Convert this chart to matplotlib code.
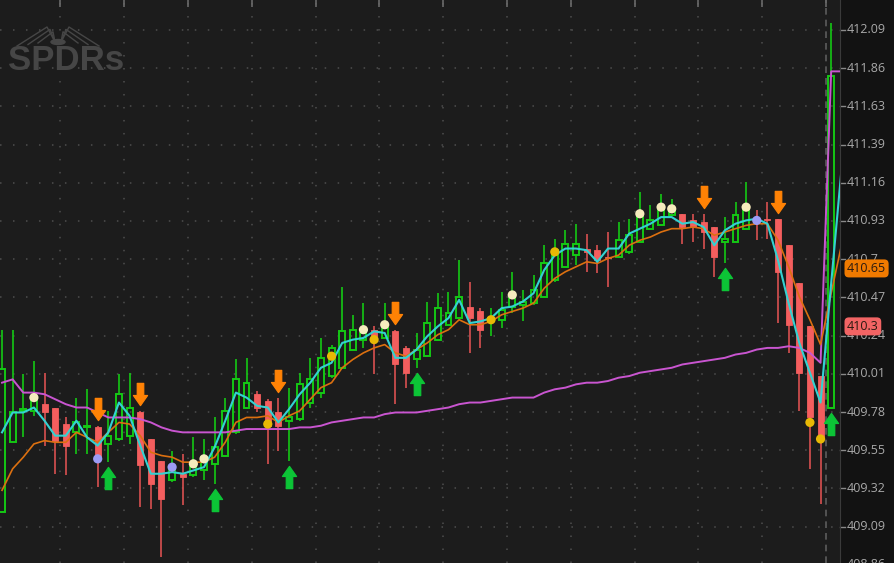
import numpy as np
import matplotlib.pyplot as plt
import matplotlib.transforms as mtransforms
from matplotlib.path import Path
from matplotlib.patches import Rectangle, Ellipse

# five-minute bars, oldest first
opens = [409.18, 409.60, 409.79, 409.79, 409.83, 409.81, 409.71, 409.66, 409.69, 409.69,
         409.59, 409.62, 409.64, 409.78, 409.62, 409.49, 409.37, 409.41, 409.40, 409.43,
         409.47, 409.52, 409.66, 409.81, 409.89, 409.85, 409.78, 409.73, 409.74, 409.84,
         409.90, 410.00, 410.05, 410.16, 410.22, 410.28, 410.23, 410.27, 410.17, 410.10,
         410.12, 410.22, 410.31, 410.35, 410.42, 410.39, 410.33, 410.34, 410.42, 410.43,
         410.44, 410.48, 410.58, 410.66, 410.73, 410.77, 410.76, 410.72, 410.72, 410.75,
         410.81, 410.89, 410.91, 410.97, 410.98, 410.94, 410.93, 410.90, 410.81, 410.81,
         410.89, 410.95, 410.95, 410.95, 410.79, 410.56, 410.30, 410.00, 409.81]
highs = [410.28, 410.28, 410.01, 410.09, 410.02, 409.81, 409.75, 409.87, 409.92, 409.70,
         409.79, 410.01, 410.02, 409.79, 409.62, 409.49, 409.55, 409.53, 409.63, 409.62,
         409.75, 409.87, 410.10, 410.11, 409.91, 409.86, 409.87, 409.93, 410.02, 410.11,
         410.23, 410.19, 410.54, 410.37, 410.44, 410.30, 410.44, 410.28, 410.18, 410.26,
         410.45, 410.50, 410.51, 410.70, 410.57, 410.41, 410.41, 410.51, 410.63, 410.52,
         410.61, 410.79, 410.83, 410.88, 410.92, 410.86, 410.79, 410.87, 410.93, 410.95,
         411.11, 411.03, 411.10, 411.07, 410.98, 410.98, 410.98, 410.90, 410.96, 411.05,
         411.17, 411.00, 411.05, 410.95, 410.79, 410.56, 410.30, 410.00, 412.13]
lows = [409.18, 409.60, 409.63, 409.76, 409.58, 409.41, 409.40, 409.53, 409.53, 409.33,
        409.48, 409.61, 409.59, 409.21, 409.20, 408.91, 409.36, 409.22, 409.39, 409.37,
        409.35, 409.51, 409.65, 409.80, 409.78, 409.47, 409.55, 409.49, 409.73, 409.81,
        409.87, 409.99, 410.04, 410.16, 410.17, 410.01, 410.23, 409.83, 409.93, 410.05,
        410.12, 410.22, 410.31, 410.35, 410.14, 410.17, 410.24, 410.29, 410.38, 410.33,
        410.43, 410.48, 410.57, 410.66, 410.67, 410.63, 410.62, 410.54, 410.71, 410.74,
        410.81, 410.89, 410.91, 410.97, 410.80, 410.81, 410.77, 410.60, 410.68, 410.81,
        410.89, 410.82, 410.83, 410.32, 410.14, 409.79, 409.44, 409.23, 409.81]
closes = [410.04, 409.78, 409.80, 409.86, 409.78, 409.61, 409.58, 409.72, 409.70, 409.50,
          409.64, 409.89, 409.81, 409.46, 409.35, 409.26, 409.44, 409.39, 409.45, 409.51,
          409.57, 409.79, 409.98, 409.96, 409.81, 409.70, 409.70, 409.75, 409.95, 409.98,
          410.11, 410.17, 410.27, 410.28, 410.26, 410.24, 410.29, 410.07, 410.02, 410.16,
          410.32, 410.41, 410.38, 410.48, 410.35, 410.28, 410.35, 410.40, 410.47, 410.45,
          410.52, 410.68, 410.76, 410.80, 410.80, 410.75, 410.70, 410.71, 410.82, 410.85,
          410.96, 410.94, 411.01, 411.00, 410.90, 410.90, 410.87, 410.72, 410.83, 410.97,
          411.02, 410.94, 410.94, 410.63, 410.31, 410.02, 409.75, 409.63, 411.81]

# study lines, one value more than the bars (expansion bar)
fast_line = [409.66, 409.78, 409.78, 409.81, 409.73, 409.64, 409.64, 409.73, 409.63, 409.58,
             409.66, 409.84, 409.76, 409.58, 409.41, 409.41, 409.42, 409.41, 409.43, 409.45,
             409.57, 409.73, 409.90, 409.87, 409.82, 409.81, 409.72, 409.80, 409.89, 409.96,
             410.05, 410.08, 410.20, 410.22, 410.23, 410.27, 410.26, 410.11, 410.11, 410.16,
             410.24, 410.30, 410.35, 410.46, 410.32, 410.33, 410.35, 410.41, 410.42, 410.45,
             410.50, 410.64, 410.73, 410.77, 410.77, 410.76, 410.69, 410.77, 410.77, 410.86,
             410.89, 410.92, 410.96, 410.96, 410.92, 410.93, 410.90, 410.79, 410.88, 410.92,
             410.94, 410.95, 410.92, 410.70, 410.44, 410.20, 410.02, 409.84, 410.56, 411.27]
mid_line = [409.31, 409.44, 409.51, 409.59, 409.61, 409.60, 409.60, 409.66, 409.63, 409.60,
            409.66, 409.72, 409.71, 409.64, 409.54, 409.52, 409.51, 409.48, 409.48, 409.48,
            409.51, 409.60, 409.72, 409.75, 409.75, 409.76, 409.72, 409.76, 409.79, 409.86,
            409.93, 409.96, 410.05, 410.10, 410.14, 410.17, 410.19, 410.14, 410.12, 410.16,
            410.20, 410.25, 410.28, 410.34, 410.31, 410.31, 410.33, 410.37, 410.39, 410.41,
            410.44, 410.53, 410.59, 410.63, 410.66, 410.69, 410.68, 410.71, 410.73, 410.79,
            410.82, 410.84, 410.87, 410.89, 410.89, 410.90, 410.89, 410.85, 410.87, 410.89,
            410.91, 410.92, 410.92, 410.82, 410.66, 410.48, 410.34, 410.19, 410.50, 410.80]
slow_line = [409.96, 409.98, 409.90, 409.90, 409.89, 409.86, 409.83, 409.81, 409.81, 409.78,
             409.75, 409.75, 409.75, 409.74, 409.72, 409.69, 409.67, 409.66, 409.66, 409.66,
             409.66, 409.66, 409.67, 409.68, 409.68, 409.68, 409.68, 409.68, 409.69, 409.69,
             409.70, 409.72, 409.73, 409.74, 409.75, 409.75, 409.77, 409.78, 409.78, 409.78,
             409.79, 409.80, 409.81, 409.83, 409.84, 409.84, 409.85, 409.86, 409.87, 409.87,
             409.87, 409.90, 409.92, 409.93, 409.95, 409.96, 409.96, 409.97, 409.99, 410.00,
             410.02, 410.03, 410.04, 410.05, 410.07, 410.08, 410.09, 410.10, 410.11, 410.13,
             410.14, 410.16, 410.17, 410.17, 410.18, 410.17, 410.14, 410.08, 411.84, 411.84]

# signals
sell_bars = [9, 13, 26, 37, 66, 73]
buy_bars = [10, 20, 27, 39, 68, 78]
cream_bars = [3, 18, 19, 34, 36, 48, 60, 62, 63, 70]
cream_prices = [409.87, 409.47, 409.50, 410.28, 410.31, 410.49, 410.98, 411.02, 411.01, 411.02]
gold_bars = [25, 31, 35, 46, 52, 76, 77]
gold_prices = [409.71, 410.12, 410.22, 410.34, 410.75, 409.72, 409.62]
blue_bars = [9, 16, 71]
blue_prices = [409.50, 409.45, 410.94]

tick_labels = ["412.09", "411.86", "411.63", "411.39", "411.16", "410.93", "410.7",
               "410.47", "410.24", "410.01", "409.78", "409.55", "409.32", "409.09", "408.86"]
bubble_values = [410.65, 410.3]

BG = "#1c1c1c"
GREEN = "#14c814"
RED = "#f45e5e"
GRID = "#4e4e4e"


def arrow_path(down=True):
    """Block arrow marker, tip down or up."""
    verts = [(-3.2, 11), (3.2, 11), (3.2, -1), (7, -1), (0, -11), (-7, -1),
             (-3.2, -1), (-3.2, 11)]
    if not down:
        verts = [(x, -y) for x, y in verts]
    return Path(verts, closed=True)


def draw_candles(ax):
    """Hollow green up bars, filled red down bars."""
    w = 0.56
    for i in range(len(opens)):
        o, h, l, c = opens[i], highs[i], lows[i], closes[i]
        top, bot = max(o, c), min(o, c)
        if bot == top:
            top = bot + 0.005
        if c >= o:
            ax.vlines(i, top, h, color=GREEN, lw=1.2, zorder=2)
            ax.vlines(i, l, bot, color=GREEN, lw=1.2, zorder=2)
            ax.add_patch(Rectangle((i - w / 2, bot), w, top - bot, fill=False,
                                   edgecolor=GREEN, lw=1.4, zorder=3))
        else:
            ax.vlines(i, l, h, color="#d95050", lw=1.2, zorder=2)
            ax.add_patch(Rectangle((i - w / 2, bot), w, top - bot, facecolor=RED,
                                   edgecolor=RED, lw=0.6, zorder=3))


fig = plt.figure(figsize=(8.94, 5.63), dpi=100, facecolor="#121212")
ax = fig.add_axes([0, 0, 840 / 894, 1])
ax.set_facecolor(BG)
ax.set_xlim(-0.19, 78.83)
ax.set_ylim(408.871, 412.271)
ax.set_xticks([])
ax.set_yticks([])
for side in ["top", "bottom", "left"]:
    ax.spines[side].set_visible(False)
ax.spines["right"].set_color("#3a3a3a")

# grid
tick_values = np.linspace(412.09, 408.86, len(tick_labels))
for v in tick_values:
    ax.axhline(v, color=GRID, lw=1.1, ls=(0, (1, 7.5)), zorder=1)
grid_x = np.arange(5.5, 77, 6)
for g in grid_x:
    ax.axvline(g, color=GRID, lw=1.1, ls=(0, (1, 7.5)), zorder=1)
ax.axvline(77.5, color="#5c5c5c", lw=1.2, ls=(0, (4, 3)), zorder=1)
ax.vlines(list(grid_x) + [77.5], 1 - 7 / 563, 1, transform=ax.get_xaxis_transform(),
          color="#6a6a6a", lw=1.2)

# watermark
fig.text(8 / 894, 1 - 60 / 563, "SPDRs", fontsize=25, fontweight="bold",
         family="Liberation Sans", color="#464646", va="center", ha="left")
fig.patches.append(Ellipse((58 / 894, 1 - 42 / 563), 14 / 894, 5 / 563,
                           transform=fig.transFigure, color="#464646"))
for sgn in (-1, 1):
    for peak, foot in ((11, 41), (8, 30), (5, 20)):
        xs = [58 + sgn * 3, 58 + sgn * peak, 58 + sgn * foot]
        ys = [42, 27 + (11 - peak) * 0.8, 46 - (11 - peak) * 0.5]
        fig.add_artist(plt.Line2D([x / 894 for x in xs], [1 - y / 563 for y in ys],
                                  transform=fig.transFigure, color="#464646", lw=1.0))

draw_candles(ax)

x_line = np.arange(len(fast_line))
ax.plot(x_line, slow_line, color="#c955d0", lw=1.4, zorder=4)
ax.plot(x_line, mid_line, color="#dc7010", lw=1.2, zorder=4)
ax.plot(x_line, fast_line, color="#33d2d2", lw=1.5, zorder=5)

ax.scatter(cream_bars, cream_prices, s=44, color="#f6ebbd", edgecolors="none", zorder=6)
ax.scatter(gold_bars, gold_prices, s=44, color="#e8b805", edgecolors="none", zorder=6)
ax.scatter(blue_bars, blue_prices, s=44, color="#9d9cf5", edgecolors="none", zorder=6)

above = ax.transData + mtransforms.ScaledTranslation(0, 0.17, fig.dpi_scale_trans)
below = ax.transData + mtransforms.ScaledTranslation(0, -0.16, fig.dpi_scale_trans)
ax.plot(sell_bars, [highs[i] for i in sell_bars], ls="none", marker=arrow_path(True),
        markersize=16, color="#ff8205", mec="#ff8205", mew=0.9, transform=above,
        zorder=7)
ax.plot(buy_bars, [lows[i] for i in buy_bars], ls="none", marker=arrow_path(False),
        markersize=16, color="#0cc436", mec="#0cc436", mew=0.9, transform=below,
        zorder=7)

# price axis
ytrans = mtransforms.blended_transform_factory(ax.transAxes, ax.transData)
for v, lab in zip(tick_values, tick_labels):
    ax.plot([1.0, 1 + 5 / 840], [v, v], color="#8a8a8a", lw=1.0, transform=ytrans,
            clip_on=False)
    ax.text(1 + 7 / 840, v, lab, transform=ytrans, va="center", ha="left",
            fontsize=9, family="Open Sans", color="#a9a9a9", clip_on=False)

bubble_colors = ["#f07a00", "#f26464"]
for v, col in zip(bubble_values, bubble_colors):
    ax.text(1 + 7 / 840, v, f"{v:g}", transform=ytrans, va="center", ha="left",
            fontsize=9, family="Open Sans", color="#2a1a10", clip_on=False, zorder=10,
            bbox=dict(boxstyle="round,pad=0.2,rounding_size=0.35", fc=col, ec="none"))

fig.savefig("out.png", dpi=100, facecolor=fig.get_facecolor())
